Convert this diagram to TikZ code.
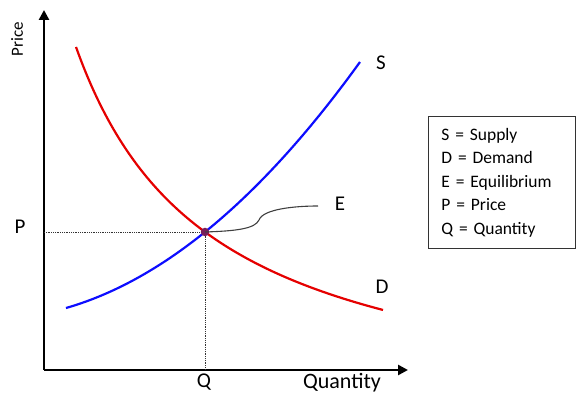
\documentclass[tikz,border=0pt]{standalone}
\usepackage{fontspec}
\setmainfont{Carlito}
\usetikzlibrary{arrows.meta}
\begin{document}
\begin{tikzpicture}[x=1pt,y=-1pt,
  axis/.style={line width=2.6pt,-{Triangle[length=10pt,width=10pt]}},
  dem/.style={red!90!black,line width=2.2pt},
  sup/.style={blue!95!white,line width=2.2pt},
  guide/.style={densely dotted,line width=0.8pt,black!80},
  lbl/.style={font=\fontsize{21}{24}\selectfont,inner sep=0pt},
  leg/.style={draw=black!80,line width=0.9pt,align=left,text width=121pt,inner xsep=13pt,inner ysep=6pt,font=\fontsize{17.5}{23.5}\selectfont}]
\useasboundingbox (0,0) rectangle (587,398);
% axes
\coordinate (O) at (44,370);
\coordinate (Ytip) at (44,10);
\coordinate (Xtip) at (408,370);
\draw[axis] (O) -- (Ytip);
\draw[axis] (O) -- (Xtip);
% guides
\coordinate (Pax) at (44,232);
\coordinate (Qax) at (205,370);
\coordinate (Eq) at (205,232);
\draw[guide] (Pax) -- (Eq);
\draw[guide] (Eq) -- (Qax);
% demand
\draw[dem] plot[domain=76:383,samples=80,smooth] (\x,{425.7-511.68*(100/(\x+59.1))});
% supply
\draw[sup] plot[domain=66:360,samples=80,smooth] (\x,{318.78-0.0398*\x-18.71*(\x/100)*(\x/100)});
% equilibrium dot
\node[circle,fill={rgb,255:red,120;green,30;blue,90},inner sep=0pt,minimum size=8.5pt] (dot) at (Eq) {};
% E connector
\coordinate (Eend) at (318,206);
\draw[black!75,line width=1.1pt] (dot.center) .. controls (235,231) and (255,229) .. (259,220)
  .. controls (263,209) and (295,206) .. (Eend);
% labels
\node[lbl] (Elab) at (340,204) {E};
\node[lbl] (Slab) at (381,63) {S};
\node[lbl] (Dlab) at (382,287) {D};
\node[lbl] (Plab) at (20,227) {P};
\node[lbl] (Qlab) at (204,382) {Q};
\node[lbl,font=\fontsize{22}{24}\selectfont] (Xlab) at (342,383) {Quantity};
\node[lbl,font=\fontsize{17}{18}\selectfont,rotate=90] (Ylab) at (17,39) {Price};
% legend
\node[leg,anchor=north west,minimum height=132pt] (legend) at (428,116)
  {S = Supply\\D = Demand\\E = Equilibrium\\P = Price\\Q = Quantity};
\end{tikzpicture}
\end{document}
